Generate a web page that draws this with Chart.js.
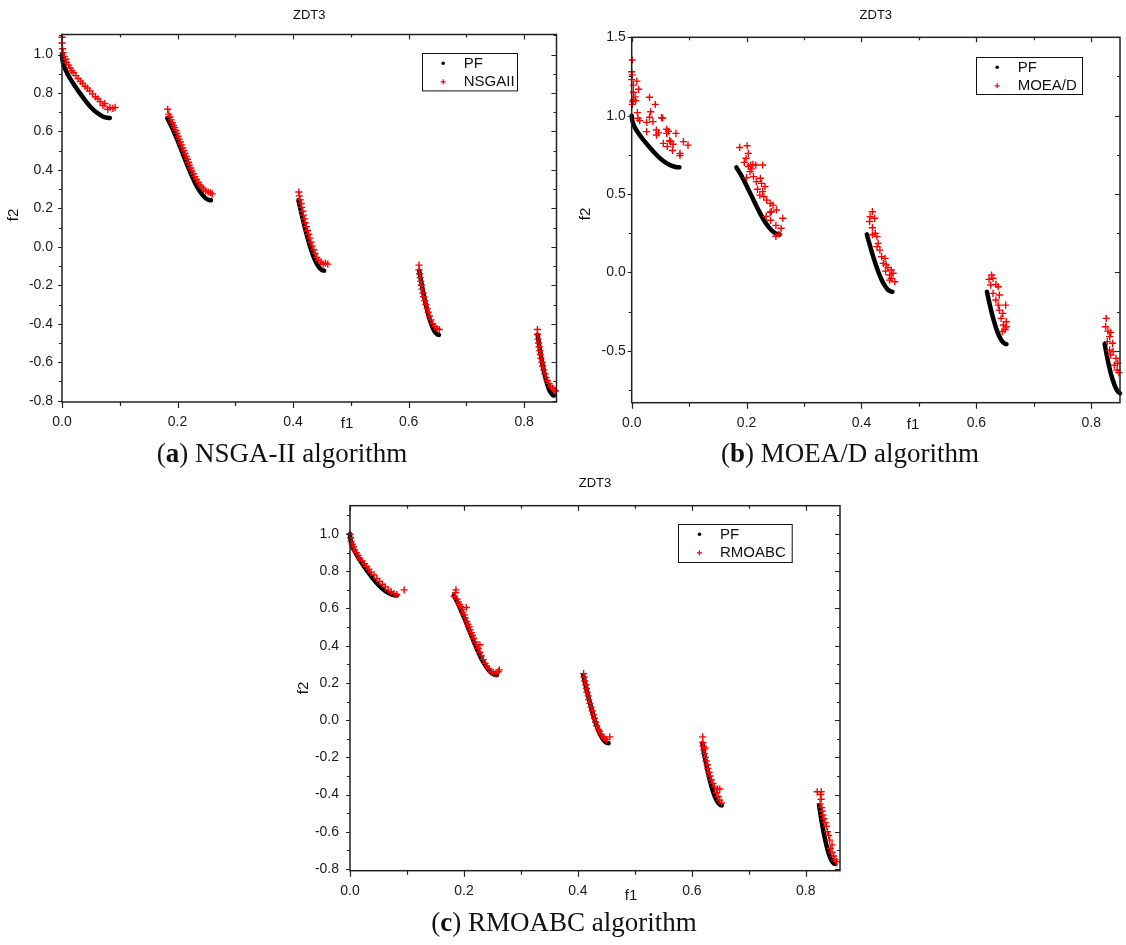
<!DOCTYPE html>
<html>
<head>
<meta charset="utf-8">
<script src="https://cdn.jsdelivr.net/npm/chart.js@4.4.1/dist/chart.umd.min.js"></script>
<style>
  body{margin:0;background:#fff;width:1126px;height:945px;position:relative;overflow:hidden;font-family:"Liberation Sans",Arial,sans-serif}
  canvas{position:absolute}
  .cap{position:absolute;font-family:"Liberation Serif","Times New Roman",serif;font-size:27px;color:#111;white-space:nowrap;transform:translateX(-50%);line-height:32px}
</style>
</head>
<body>
<canvas id="ga" width="570" height="445" style="left:0;top:0"></canvas>
<canvas id="gb" width="556" height="445" style="left:570px;top:0"></canvas>
<canvas id="gc" width="580" height="445" style="left:280px;top:470px"></canvas>
<div class="cap" style="left:282px;top:437px">(<b>a</b>) NSGA-II algorithm</div>
<div class="cap" style="left:850px;top:437px">(<b>b</b>) MOEA/D algorithm</div>
<div class="cap" style="left:564px;top:906px">(<b>c</b>) RMOABC algorithm</div>
<script>
// ticks
const xTicks = [0, 0.2, 0.4, 0.6, 0.8]
const xMinor = [0.1, 0.3, 0.5, 0.7]
const yTicksFine = [-0.8, -0.6, -0.4, -0.2, 0, 0.2, 0.4, 0.6, 0.8, 1.0]
const yMinorFine = [-0.7, -0.5, -0.3, -0.1, 0.1, 0.3, 0.5, 0.7, 0.9, 1.1]
const yTicksMoead = [-0.5, 0, 0.5, 1.0, 1.5]
const yMinorMoead = [-0.75, -0.25, 0.25, 0.75, 1.25]

// ZDT3 true pareto front, one list per piece  [f1, f2]
const pfFront = [
  [[0,1.0],[0.001,0.968],[0.003,0.945],[0.006,0.921],[0.01,0.897],[0.015,0.871],[0.02,0.847],[0.03,0.803],[0.04,0.762],[0.05,0.726],[0.06,0.698],[0.07,0.679],[0.078,0.671],[0.083,0.670]],
  [[0.1822,0.670],[0.19,0.623],[0.195,0.589],[0.20,0.553],[0.205,0.515],[0.21,0.477],[0.215,0.439],[0.22,0.402],[0.225,0.367],[0.23,0.334],[0.235,0.306],[0.24,0.282],[0.245,0.263],[0.25,0.250],[0.254,0.244],[0.2578,0.242]],
  [[0.4093,0.242],[0.415,0.167],[0.42,0.105],[0.425,0.048],[0.43,-0.004],[0.435,-0.047],[0.44,-0.082],[0.445,-0.107],[0.45,-0.121],[0.4539,-0.124]],
  [[0.6184,-0.124],[0.622,-0.185],[0.625,-0.233],[0.63,-0.303],[0.635,-0.363],[0.64,-0.409],[0.645,-0.440],[0.65,-0.456],[0.6525,-0.458]],
  [[0.8233,-0.457],[0.827,-0.530],[0.83,-0.583],[0.835,-0.658],[0.84,-0.715],[0.845,-0.754],[0.85,-0.772],[0.8518,-0.773]]
]

// NSGAII result
const nsgaiiPoints = [
  [0.000,1.09],[0.000,1.06],[0.001,1.03],[0.002,1.01],[0.004,0.99],[0.006,0.975],[0.008,0.96],[0.011,0.945],[0.014,0.93],[0.017,0.915],
  [0.020,0.905],[0.024,0.89],[0.028,0.875],[0.032,0.86],[0.036,0.85],[0.040,0.835],[0.044,0.825],[0.048,0.81],[0.053,0.795],[0.058,0.78],
  [0.062,0.77],[0.066,0.755],[0.071,0.735],[0.074,0.745],[0.079,0.715],[0.083,0.725],[0.088,0.72],[0.092,0.725],
  [0.183,0.715],[0.185,0.69],[0.187,0.675],[0.189,0.66],[0.191,0.645],[0.193,0.63],[0.195,0.62],[0.197,0.605],[0.199,0.59],[0.201,0.575],
  [0.203,0.56],[0.205,0.545],[0.207,0.53],[0.209,0.515],[0.211,0.50],[0.213,0.485],[0.215,0.47],[0.217,0.455],[0.219,0.44],[0.221,0.425],
  [0.223,0.41],[0.225,0.395],[0.228,0.38],[0.230,0.365],[0.233,0.35],[0.236,0.335],[0.239,0.32],[0.242,0.31],[0.245,0.30],[0.249,0.29],
  [0.253,0.285],[0.257,0.28],[0.260,0.275],
  [0.410,0.285],[0.411,0.265],[0.412,0.245],[0.414,0.225],[0.415,0.205],[0.417,0.185],[0.418,0.165],[0.420,0.145],[0.421,0.125],[0.423,0.105],
  [0.425,0.085],[0.427,0.065],[0.429,0.045],[0.431,0.025],[0.433,0.005],[0.436,-0.015],[0.438,-0.035],[0.441,-0.055],[0.444,-0.07],[0.448,-0.08],
  [0.452,-0.09],[0.456,-0.085],[0.460,-0.09],
  [0.618,-0.095],[0.618,-0.12],[0.619,-0.14],[0.620,-0.16],[0.621,-0.18],[0.622,-0.20],[0.623,-0.22],[0.625,-0.24],[0.626,-0.26],[0.628,-0.28],
  [0.630,-0.30],[0.632,-0.32],[0.634,-0.34],[0.636,-0.36],[0.639,-0.38],[0.642,-0.40],[0.645,-0.415],[0.649,-0.425],[0.653,-0.43],
  [0.823,-0.43],[0.823,-0.455],[0.824,-0.48],[0.825,-0.50],[0.826,-0.52],[0.827,-0.54],[0.828,-0.56],[0.829,-0.58],[0.831,-0.60],[0.832,-0.62],
  [0.834,-0.64],[0.836,-0.66],[0.838,-0.68],[0.840,-0.695],[0.843,-0.71],[0.846,-0.725],[0.849,-0.735],[0.852,-0.745],[0.854,-0.75]
]

// MOEA/D result
const moeadPoints = [
  [0.001,1.355],[0.000,1.28],[0.001,1.26],[0.000,1.23],[0.009,1.22],[0.003,1.195],[0.012,1.168],[0.003,1.149],[0.006,1.12],[0.003,1.10],
  [0.007,1.096],[0.001,1.072],[0.002,1.09],[0.031,1.117],[0.041,1.072],[0.033,1.025],[0.010,1.019],[0.031,0.99],[0.011,0.983],[0.014,0.968],
  [0.026,0.957],[0.037,0.962],[0.052,0.987],[0.054,0.985],[0.026,0.898],[0.043,0.908],[0.043,0.876],[0.047,0.89],[0.061,0.913],[0.061,0.887],
  [0.064,0.90],[0.077,0.887],[0.055,0.823],[0.068,0.834],[0.072,0.817],[0.062,0.802],[0.071,0.778],[0.084,0.759],[0.084,0.746],[0.090,0.834],
  [0.098,0.812],[0.066,0.84],
  [0.188,0.797],[0.201,0.808],[0.203,0.759],[0.199,0.728],[0.196,0.702],[0.203,0.675],[0.207,0.685],[0.211,0.689],[0.216,0.685],[0.228,0.685],
  [0.206,0.643],[0.200,0.604],[0.212,0.611],[0.224,0.60],[0.217,0.579],[0.226,0.568],[0.232,0.547],[0.228,0.515],[0.223,0.493],[0.230,0.483],
  [0.235,0.461],[0.241,0.44],[0.246,0.429],[0.252,0.398],[0.243,0.387],[0.234,0.357],[0.242,0.332],[0.251,0.30],[0.260,0.281],[0.256,0.243],
  [0.241,0.383],[0.263,0.345],[0.251,0.23],[0.209,0.66],[0.219,0.53],
  [0.419,0.387],[0.415,0.355],[0.423,0.345],[0.414,0.324],[0.419,0.285],[0.424,0.249],[0.427,0.228],[0.419,0.24],[0.429,0.185],[0.427,0.164],
  [0.432,0.142],[0.435,0.10],[0.441,0.089],[0.438,0.057],[0.443,0.047],[0.446,0.030],[0.442,0.008],[0.452,0.015],[0.449,-0.017],[0.455,-0.006],
  [0.452,-0.038],[0.458,-0.06],[0.449,-0.05],
  [0.6265,-0.017],[0.622,-0.045],[0.629,-0.038],[0.625,-0.081],[0.634,-0.077],[0.638,-0.092],[0.629,-0.134],[0.640,-0.145],[0.634,-0.177],[0.638,-0.209],
  [0.651,-0.209],[0.640,-0.241],[0.646,-0.262],[0.643,-0.294],[0.652,-0.315],[0.647,-0.336],[0.652,-0.347],[0.645,-0.378],[0.650,-0.365],
  [0.826,-0.294],[0.825,-0.347],[0.829,-0.375],[0.834,-0.383],[0.832,-0.41],[0.828,-0.442],[0.837,-0.453],[0.832,-0.496],[0.838,-0.506],[0.834,-0.528],
  [0.843,-0.549],[0.840,-0.592],[0.845,-0.623],[0.848,-0.64],[0.846,-0.58]
]

// RMOABC result
const rmoabcPoints = [
  [0.000,1.0],[0.001,0.98],[0.002,0.96],[0.004,0.945],[0.006,0.93],[0.008,0.915],[0.011,0.90],[0.014,0.885],[0.017,0.87],[0.021,0.855],
  [0.025,0.84],[0.029,0.825],[0.033,0.81],[0.037,0.795],[0.042,0.78],[0.047,0.76],[0.052,0.745],[0.057,0.73],[0.062,0.715],[0.067,0.70],
  [0.072,0.69],[0.077,0.68],[0.082,0.675],[0.095,0.70],
  [0.183,0.665],[0.185,0.685],[0.186,0.70],[0.188,0.65],[0.190,0.635],[0.192,0.62],[0.194,0.61],[0.196,0.595],[0.198,0.58],[0.200,0.565],
  [0.202,0.55],[0.204,0.605],[0.205,0.53],[0.207,0.515],[0.209,0.50],[0.211,0.485],[0.213,0.47],[0.215,0.455],[0.217,0.44],[0.220,0.42],
  [0.222,0.40],[0.225,0.385],[0.228,0.405],[0.228,0.365],[0.231,0.345],[0.234,0.325],[0.237,0.305],[0.240,0.29],[0.244,0.275],[0.248,0.26],
  [0.252,0.255],[0.256,0.25],[0.260,0.26],[0.262,0.27],
  [0.410,0.25],[0.411,0.23],[0.412,0.21],[0.414,0.19],[0.415,0.17],[0.416,0.15],[0.418,0.13],[0.419,0.11],[0.421,0.09],[0.423,0.07],
  [0.425,0.05],[0.427,0.03],[0.429,0.01],[0.431,-0.01],[0.433,-0.03],[0.436,-0.05],[0.438,-0.06],[0.441,-0.075],[0.444,-0.09],[0.447,-0.10],
  [0.450,-0.105],[0.456,-0.09],
  [0.619,-0.09],[0.619,-0.12],[0.620,-0.14],[0.621,-0.16],[0.623,-0.15],[0.622,-0.18],[0.624,-0.20],[0.625,-0.22],[0.627,-0.24],[0.628,-0.26],
  [0.630,-0.28],[0.632,-0.30],[0.634,-0.32],[0.637,-0.34],[0.640,-0.36],[0.645,-0.37],[0.649,-0.37],[0.643,-0.39],[0.646,-0.41],[0.649,-0.43],
  [0.652,-0.445],
  [0.820,-0.385],[0.827,-0.385],[0.826,-0.40],[0.827,-0.425],[0.825,-0.45],[0.828,-0.47],[0.829,-0.49],[0.830,-0.51],[0.832,-0.53],[0.834,-0.55],
  [0.836,-0.57],[0.838,-0.60],[0.840,-0.62],[0.842,-0.645],[0.846,-0.67],[0.843,-0.69],[0.846,-0.71],[0.849,-0.73],[0.851,-0.75],[0.854,-0.76]
]

const FONT = '"Liberation Sans", Arial, sans-serif'

//desenha moldura, ticks menores, titulo, rotulos dos eixos e legenda
const framePlugin = {
  id: 'frame',
  afterDraw(chart, args, o){
    const ctx = chart.ctx
    const a = chart.chartArea
    const x = chart.scales.x
    const y = chart.scales.y
    ctx.save()
    ctx.strokeStyle = '#222'
    ctx.lineWidth = 1.5
    ctx.strokeRect(a.left, a.top, a.right - a.left, a.bottom - a.top)

    ctx.lineWidth = 1.2
    ctx.beginPath()
    const xt = function(list, outLen, inLen){
      list.forEach(function(v){
        const px = Math.round(x.getPixelForValue(v)) + 0.5
        ctx.moveTo(px, a.bottom); ctx.lineTo(px, a.bottom + outLen)
        ctx.moveTo(px, a.top); ctx.lineTo(px, a.top + inLen)
      })
    }
    const yt = function(list, outLen, inLen){
      list.forEach(function(v){
        const py = Math.round(y.getPixelForValue(v)) + 0.5
        if(py < a.top - 1 || py > a.bottom + 1) return
        ctx.moveTo(a.left, py); ctx.lineTo(a.left - outLen, py)
        ctx.moveTo(a.right, py); ctx.lineTo(a.right - inLen, py)
      })
    }
    xt(xTicks, 6, 5)
    xt(xMinor, 4, 3)
    yt(o.yTicks, 4, 5)
    yt(o.yMinor, 3, 3)
    ctx.stroke()

    ctx.fillStyle = '#111'
    ctx.textAlign = 'center'
    ctx.textBaseline = 'middle'
    ctx.font = '13px ' + FONT
    ctx.fillText('ZDT3', (a.left + a.right) / 2, o.titleY)

    ctx.font = '15px ' + FONT
    ctx.fillText('f1', o.f1[0], o.f1[1])
    ctx.save()
    ctx.translate(o.f2[0], o.f2[1])
    ctx.rotate(-Math.PI / 2)
    ctx.fillText('f2', 0, 0)
    ctx.restore()

    //legenda
    const L = o.legend
    ctx.lineWidth = 1
    ctx.strokeStyle = '#111'
    ctx.strokeRect(Math.round(L.x) + 0.5, Math.round(L.y) + 0.5, L.w, L.h)
    const mx = L.x + 21.5
    const r1 = L.y + 10
    const r2 = L.y + 28.5
    ctx.fillStyle = '#000'
    ctx.beginPath()
    ctx.arc(mx, r1, 1.8, 0, Math.PI * 2)
    ctx.fill()
    ctx.strokeStyle = '#ff0000'
    ctx.lineWidth = 1.2
    ctx.beginPath()
    ctx.moveTo(mx - 2.5, r2); ctx.lineTo(mx + 2.5, r2)
    ctx.moveTo(mx, r2 - 2.5); ctx.lineTo(mx, r2 + 2.5)
    ctx.stroke()
    ctx.fillStyle = '#111'
    ctx.textAlign = 'left'
    ctx.font = '15px ' + FONT
    ctx.fillText('PF', L.x + 42, r1 + 0.5)
    ctx.fillText(o.name, L.x + 42, r2 + 0.5)
    ctx.restore()
  }
}

function montaGrafico(id, cfg){
  var datasets = [{
    data: cfg.points.map(function(p){ return {x: p[0], y: p[1]} }),
    showLine: false,
    pointStyle: 'cross',
    pointRadius: 3.6,
    pointBorderWidth: 1.4,
    borderColor: '#ff0000',
    backgroundColor: '#ff0000',
    clip: 5,
    order: 0
  }]
  pfFront.forEach(function(seg){
    datasets.push({
      data: seg.map(function(p){ return {x: p[0], y: p[1]} }),
      showLine: true,
      borderColor: '#000',
      borderWidth: 4.5,
      borderCapStyle: 'round',
      borderJoinStyle: 'round',
      pointRadius: 0,
      tension: 0.2,
      clip: false,
      order: 1
    })
  })

  return new Chart(document.getElementById(id), {
    type: 'scatter',
    data: { datasets: datasets },
    options: {
      responsive: false,
      animation: false,
      events: [],
      layout: { padding: { left: 0, right: cfg.padR, top: cfg.padT, bottom: cfg.padB } },
      plugins: {
        legend: { display: false },
        tooltip: { enabled: false },
        frame: {
          yTicks: cfg.yTicks, yMinor: cfg.yMinor, titleY: cfg.titleY,
          f1: cfg.f1, f2: cfg.f2, legend: cfg.legend, name: cfg.name
        }
      },
      scales: {
        x: {
          type: 'linear', min: 0, max: cfg.xMax,
          grid: { display: false, drawTicks: false }, border: { display: false },
          afterFit: function(s){ s.height = 40 },
          afterBuildTicks: function(s){ s.ticks = xTicks.map(function(v){ return {value: v} }) },
          ticks: { padding: 12, color: '#1a1a1a', font: { size: 14, family: FONT }, maxRotation: 0,
                   callback: function(v){ return v.toFixed(1) } }
        },
        y: {
          type: 'linear', min: cfg.yMin, max: cfg.yMax,
          grid: { display: false, drawTicks: false }, border: { display: false },
          afterFit: function(s){ s.width = cfg.yW },
          afterBuildTicks: function(s){ s.ticks = cfg.yTicks.map(function(v){ return {value: v} }) },
          ticks: { padding: cfg.yPad, color: '#1a1a1a', font: { size: 14, family: FONT },
                   callback: function(v){ return v.toFixed(1) } }
        }
      }
    },
    plugins: [framePlugin]
  })
}

montaGrafico('ga', {
  points: nsgaiiPoints, name: 'NSGAII',
  xMax: 0.856, yMin: -0.807, yMax: 1.104,
  yTicks: yTicksFine, yMinor: yMinorFine,
  yW: 62, yPad: 9, padR: 13.5, padT: 34.5, padB: 3,
  titleY: 15, f1: [347, 424], f2: [14, 215],
  legend: { x: 421.7, y: 53.3, w: 95, h: 37.4 }
})

montaGrafico('gb', {
  points: moeadPoints, name: 'MOEA/D',
  xMax: 0.85, yMin: -0.832, yMax: 1.5,
  yTicks: yTicksMoead, yMinor: yMinorMoead,
  yW: 61.7, yPad: 6, padR: 6, padT: 37.3, padB: 2.3,
  titleY: 15, f1: [343, 425], f2: [16, 214],
  legend: { x: 405.7, y: 57.3, w: 106, h: 37 }
})

montaGrafico('gc', {
  points: rmoabcPoints, name: 'RMOABC',
  xMax: 0.86, yMin: -0.809, yMax: 1.152,
  yTicks: yTicksFine, yMinor: yMinorFine,
  yW: 70, yPad: 11, padR: 20, padT: 35.7, padB: 4.3,
  titleY: 13, f1: [351, 426], f2: [24, 218],
  legend: { x: 398, y: 54.3, w: 113.7, h: 38 }
})
</script>
</body>
</html>
